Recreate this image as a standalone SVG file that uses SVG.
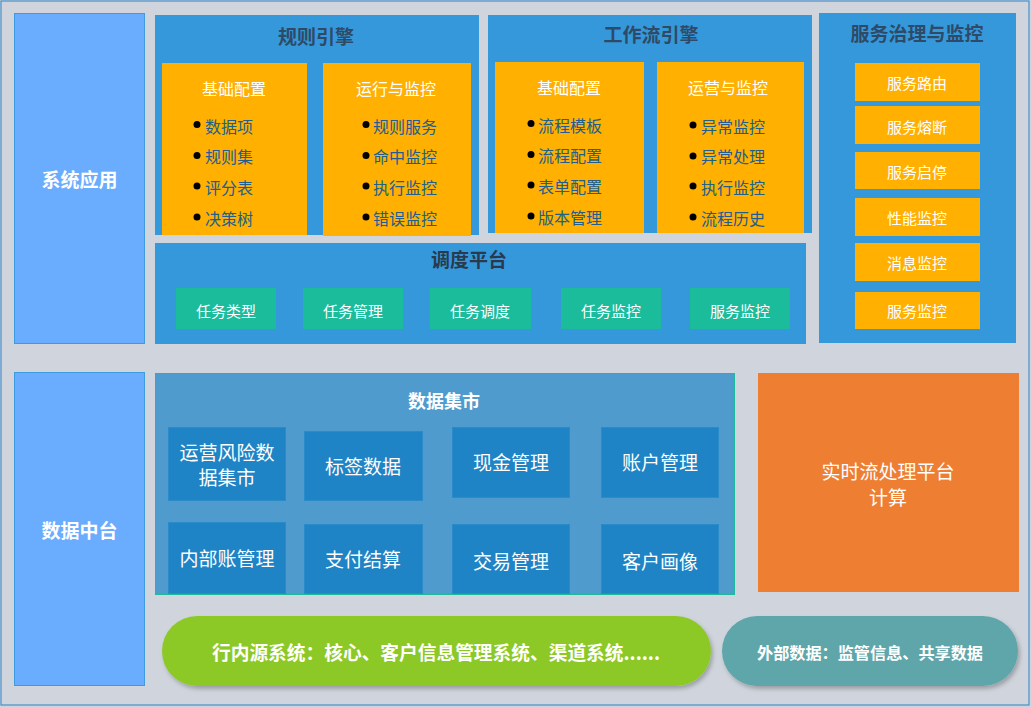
<svg xmlns="http://www.w3.org/2000/svg" width="1031" height="707" viewBox="0 0 1031 707">
<defs>
<style>
text{font-family:"Noto Sans CJK SC","Liberation Sans",sans-serif;}
.side{fill:#6AACFE;stroke:#3D9BE0;stroke-width:1;}
.panel{fill:#3598DB;}
.org{fill:#FFB000;}
.ptitle{font-size:19px;font-weight:bold;fill:#2E4A66;text-anchor:middle;}
.otitle{font-size:16px;fill:#FFFFFF;text-anchor:middle;}
.item{font-size:16px;fill:#215E8E;}
.dot{fill:#000000;}
.btn{font-size:15px;fill:#FFFFFF;text-anchor:middle;}
.task{fill:#1ABC9C;}
.mart{fill:#1E84C6;stroke:#2B8ACA;stroke-width:1;}
.mtext{font-size:19px;fill:#FFFFFF;text-anchor:middle;}
.wbold{font-weight:bold;fill:#FFFFFF;text-anchor:middle;}
</style>
<filter id="sh" x="-10%" y="-20%" width="120%" height="150%">
<feDropShadow dx="2" dy="3" stdDeviation="2" flood-color="#000000" flood-opacity="0.25"/>
</filter>
</defs>
<rect x="0" y="0" width="1031" height="707" fill="#D0D5DD"/>
<rect x="1" y="1" width="1028" height="704" fill="none" stroke="#4A90C8" stroke-width="1.2"/>

<g id="sys-app">
<rect class="side" x="14.5" y="13.5" width="130" height="330"/>
<text class="wbold" x="79.5" y="187" font-size="19">系统应用</text>
</g>
<g id="data-mid">
<rect class="side" x="14.5" y="372.5" width="130" height="313"/>
<text class="wbold" x="79.5" y="538" font-size="19">数据中台</text>
</g>

<g id="rule-engine">
<rect class="panel" x="155" y="15" width="324" height="220"/>
<text class="ptitle" x="316" y="44">规则引擎</text>
<rect class="org" x="162" y="63" width="145" height="172"/>
<text class="otitle" x="234" y="95">基础配置</text>
<circle class="dot" cx="197" cy="124.5" r="3.5"/><text class="item" x="205" y="133">数据项</text>
<circle class="dot" cx="197" cy="155.5" r="3.5"/><text class="item" x="205" y="163">规则集</text>
<circle class="dot" cx="197" cy="186" r="3.5"/><text class="item" x="205" y="194">评分表</text>
<circle class="dot" cx="197" cy="217" r="3.5"/><text class="item" x="205" y="225">决策树</text>
<rect class="org" x="323" y="63" width="148" height="173"/>
<text class="otitle" x="396" y="95">运行与监控</text>
<circle class="dot" cx="366" cy="124.5" r="3.5"/><text class="item" x="373" y="133">规则服务</text>
<circle class="dot" cx="366" cy="155.5" r="3.5"/><text class="item" x="373" y="163">命中监控</text>
<circle class="dot" cx="366" cy="186" r="3.5"/><text class="item" x="373" y="194">执行监控</text>
<circle class="dot" cx="366" cy="217" r="3.5"/><text class="item" x="373" y="225">错误监控</text>
</g>

<g id="workflow-engine">
<rect class="panel" x="488" y="15" width="324" height="218"/>
<text class="ptitle" x="651" y="42">工作流引擎</text>
<rect class="org" x="495" y="62" width="149" height="171"/>
<text class="otitle" x="569" y="94">基础配置</text>
<circle class="dot" cx="531" cy="123.5" r="3.5"/><text class="item" x="538" y="132">流程模板</text>
<circle class="dot" cx="531" cy="154.5" r="3.5"/><text class="item" x="538" y="162">流程配置</text>
<circle class="dot" cx="531" cy="185" r="3.5"/><text class="item" x="538" y="193">表单配置</text>
<circle class="dot" cx="531" cy="216" r="3.5"/><text class="item" x="538" y="224">版本管理</text>
<rect class="org" x="657" y="62" width="147" height="171"/>
<text class="otitle" x="728" y="94">运营与监控</text>
<circle class="dot" cx="693" cy="125" r="3.5"/><text class="item" x="701" y="133">异常监控</text>
<circle class="dot" cx="693" cy="156" r="3.5"/><text class="item" x="701" y="163">异常处理</text>
<circle class="dot" cx="693" cy="186" r="3.5"/><text class="item" x="701" y="194">执行监控</text>
<circle class="dot" cx="693" cy="217" r="3.5"/><text class="item" x="701" y="225">流程历史</text>
</g>

<g id="service-gov">
<rect class="panel" x="819" y="13" width="197" height="330"/>
<text class="ptitle" x="917" y="41">服务治理与监控</text>
<rect class="org" x="855" y="63" width="125" height="38"/><text class="btn" x="917" y="89">服务路由</text>
<rect class="org" x="855" y="106" width="125" height="38"/><text class="btn" x="917" y="133">服务熔断</text>
<rect class="org" x="855" y="152" width="125" height="37"/><text class="btn" x="917" y="178">服务启停</text>
<rect class="org" x="855" y="198" width="125" height="38"/><text class="btn" x="917" y="224">性能监控</text>
<rect class="org" x="855" y="243" width="125" height="38"/><text class="btn" x="917" y="269">消息监控</text>
<rect class="org" x="855" y="292" width="125" height="37"/><text class="btn" x="917" y="317">服务监控</text>
</g>

<g id="schedule">
<rect class="panel" x="155" y="243" width="651" height="101"/>
<text class="ptitle" x="469" y="267" style="fill:#2A3A4C">调度平台</text>
<rect class="task" x="176" y="288" width="100" height="41"/><text class="btn" x="226" y="317" font-size="16">任务类型</text>
<rect class="task" x="303" y="288" width="100" height="41"/><text class="btn" x="353" y="317" font-size="16">任务管理</text>
<rect class="task" x="430" y="288" width="101" height="41"/><text class="btn" x="480" y="317" font-size="16">任务调度</text>
<rect class="task" x="561" y="288" width="100" height="41"/><text class="btn" x="611" y="317" font-size="16">任务监控</text>
<rect class="task" x="690" y="288" width="100" height="41"/><text class="btn" x="740" y="317" font-size="16">服务监控</text>
</g>

<g id="data-mart">
<rect x="155.5" y="373.5" width="579" height="221" fill="#4F9BCD" stroke="#1ABC9C" stroke-width="1"/>
<text class="wbold" x="444" y="408" font-size="18">数据集市</text>
<rect class="mart" x="168.5" y="427.5" width="117" height="73"/>
<text class="mtext" x="227" y="459.5">运营风险数</text>
<text class="mtext" x="227" y="484.5">据集市</text>
<rect class="mart" x="304.5" y="431.5" width="118" height="69"/>
<text class="mtext" x="363" y="473.5">标签数据</text>
<rect class="mart" x="452.5" y="427.5" width="117" height="70"/>
<text class="mtext" x="511" y="470">现金管理</text>
<rect class="mart" x="601.5" y="427.5" width="117" height="70"/>
<text class="mtext" x="660" y="470">账户管理</text>
<rect class="mart" x="168.5" y="522.5" width="117" height="71"/>
<text class="mtext" x="227" y="566">内部账管理</text>
<rect class="mart" x="304.5" y="524.5" width="118" height="69"/>
<text class="mtext" x="363" y="567">支付结算</text>
<rect class="mart" x="452.5" y="524.5" width="117" height="69"/>
<text class="mtext" x="511" y="568.5">交易管理</text>
<rect class="mart" x="601.5" y="524.5" width="117" height="69"/>
<text class="mtext" x="660" y="568.5">客户画像</text>
</g>

<g id="realtime">
<rect x="758" y="373" width="261" height="219" fill="#EE7E32"/>
<text class="mtext" x="888" y="479" font-size="20">实时流处理平台</text>
<text class="mtext" x="888" y="505" font-size="20">计算</text>
</g>

<g id="internal-src">
<rect x="162" y="616" width="549" height="70" rx="35" ry="35" fill="#8CC928" filter="url(#sh)"/>
<text class="wbold" x="436" y="659.5" font-size="19" textLength="448" lengthAdjust="spacingAndGlyphs">行内源系统：核心、客户信息管理系统、渠道系统......</text>
</g>
<g id="external-data">
<rect x="722" y="616" width="296" height="70" rx="35" ry="35" fill="#5FA6AA" filter="url(#sh)"/>
<text class="wbold" x="870" y="659" font-size="16" textLength="226" lengthAdjust="spacingAndGlyphs">外部数据：监管信息、共享数据</text>
</g>

<g id="connectors"></g>
</svg>
